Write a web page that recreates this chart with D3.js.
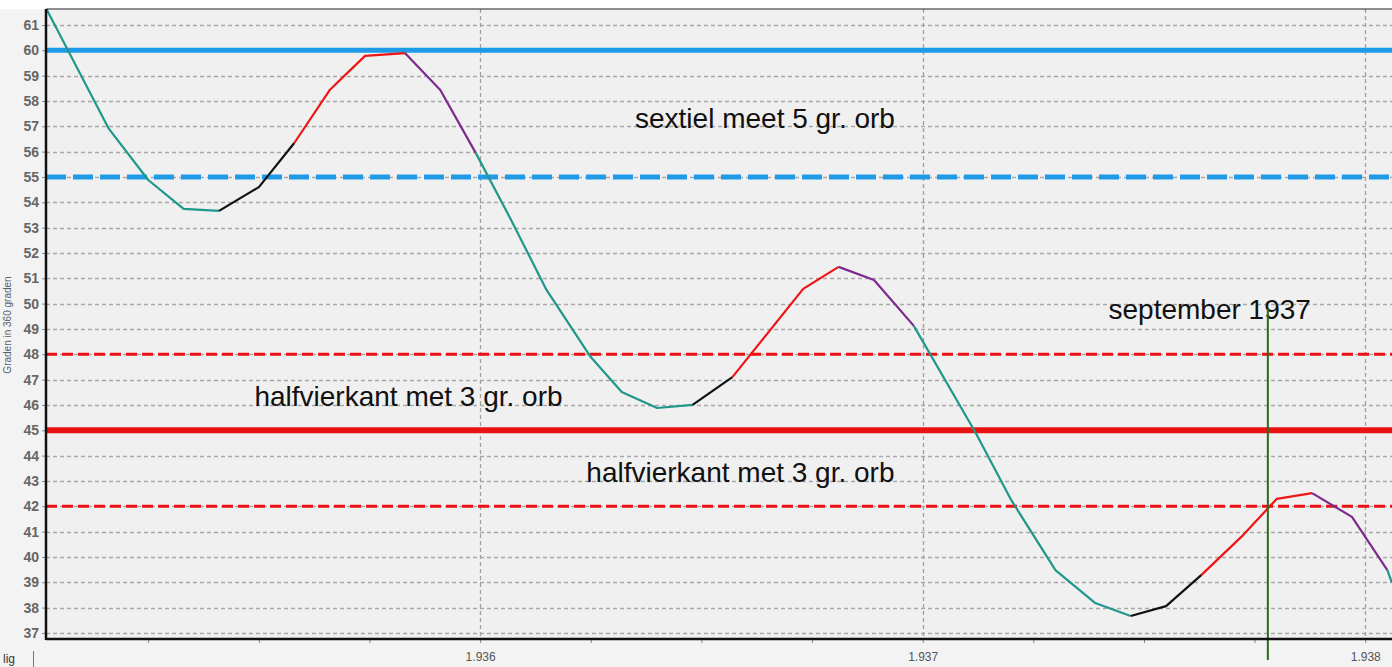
<!DOCTYPE html>
<html>
<head>
<meta charset="utf-8">
<script src="https://d3js.org/d3.v7.min.js"></script>
<style>
  body { margin: 0; background: #f3f3f3; overflow: hidden; }
  text { font-family: "Liberation Sans", Arial, sans-serif; }
</style>
</head>
<body>
<div id="graph"></div>
<script>
// Chart data - year (in thousands) against degrees
var years = [1.93502, 1.93516, 1.93525, 1.93533, 1.93541, 1.93550, 1.93558, 1.93566, 1.93574, 1.93583,
             1.93591, 1.93599, 1.93607, 1.93615, 1.93625, 1.93632, 1.93640, 1.93648, 1.93657, 1.93673,
             1.93681, 1.93689, 1.93698, 1.93712, 1.93720, 1.93730, 1.93739, 1.93747, 1.93755, 1.93763,
             1.93772, 1.93780, 1.93788, 1.93797, 1.93805, 1.93806];
var degrees = [61.63, 56.93, 54.88, 53.74, 53.66, 54.60, 56.34, 58.43, 59.78, 59.89,
               58.43, 55.95, 53.30, 50.54, 47.89, 46.51, 45.88, 46.00, 47.10, 50.58,
               51.45, 50.93, 49.12, 44.89, 42.25, 39.48, 38.18, 37.67, 38.06, 39.29,
               40.79, 42.29, 42.52, 41.58, 39.48, 39.00];
//phase of the segment that starts at each point
var phases = ["dalend", "dalend", "dalend", "dalend", "keer", "keer", "stijgend", "stijgend", "stijgend", "top",
              "top", "dalend", "dalend", "dalend", "dalend", "dalend", "dalend", "keer", "stijgend", "stijgend",
              "top", "top", "dalend", "dalend", "dalend", "dalend", "dalend", "keer", "keer", "stijgend",
              "stijgend", "stijgend", "top", "top", "dalend"];

//Aspect levels
var refLevels = [60, 55, 48, 45, 42];
var refKinds = ["sextiel", "sextielOrb", "halfvierkantOrb", "halfvierkant", "halfvierkantOrb"];

//Annotations
var noteTexts = ["sextiel meet 5 gr. orb", "halfvierkant met 3 gr. orb", "halfvierkant met 3 gr. orb", "september 1937"];
var noteYears = [1.93635, 1.93549, 1.93624, 1.93742];
var noteDegrees = [56.93, 45.96, 42.96, 49.39];

var markerYear = 1.93778;	//september 1937

var yTicks = d3.range(37, 62);
var xTicks = [1.936, 1.937, 1.938];

document.addEventListener('DOMContentLoaded', function() {
	const fullwidth = 1392;
	const fullheight = 667;
	const left = 46, right = 1390, top = 9, bottom = 639;

	var phaseColor = { dalend: "#1f978b", keer: "#111111", stijgend: "#f01414", top: "#7d2a8f" };
	var refStyle = {
		sextiel: { color: "#1f9ae6", width: 5, dash: null },
		sextielOrb: { color: "#1f9ae6", width: 5, dash: "20,7" },
		halfvierkant: { color: "#e81212", width: 6, dash: null },
		halfvierkantOrb: { color: "#e81212", width: 3, dash: "11,5" }
	};

	var xScale = d3.scaleLinear()
		.domain([1.935019, 1.938056])
		.range([left, right]);

	var yScale = d3.scaleLinear()
		.domain([36.76, 61.63])
		.range([bottom, top]);

	var svg = d3.select("#graph")
		.append("svg")
		.attr("width", fullwidth)
		.attr("height", fullheight);

	//white strip on top
	svg.append("rect")
		.attr("x", 0).attr("y", 0)
		.attr("width", fullwidth).attr("height", top)
		.attr("fill", "#ffffff");

	//plot background
	svg.append("rect")
		.attr("x", left).attr("y", top)
		.attr("width", fullwidth - left).attr("height", bottom - top)
		.attr("fill", "#f0f0f0");

	svg.append("clipPath").attr("id", "plotclip")
		.append("rect")
		.attr("x", left).attr("y", top)
		.attr("width", fullwidth - left).attr("height", bottom - top);

	//Horizontal grid
	svg.append("g")
		.selectAll("line")
		.data(yTicks)
		.enter().append("line")
			.attr("x1", left)
			.attr("x2", fullwidth)
			.attr("y1", (d) => Math.round(yScale(d)) + 0.5)
			.attr("y2", (d) => Math.round(yScale(d)) + 0.5)
			.attr("stroke", "#a8a8a8")
			.attr("stroke-width", 1.3)
			.attr("stroke-dasharray", "4,3");

	//Vertical grid
	svg.append("g")
		.selectAll("line")
		.data(xTicks)
		.enter().append("line")
			.attr("x1", (d) => Math.round(xScale(d)) + 0.5)
			.attr("x2", (d) => Math.round(xScale(d)) + 0.5)
			.attr("y1", top)
			.attr("y2", bottom)
			.attr("stroke", "#a0a0a0")
			.attr("stroke-width", 1.3)
			.attr("stroke-dasharray", "4,3");

	//Reference levels
	svg.append("g")
		.selectAll("line")
		.data(refLevels)
		.enter().append("line")
			.attr("x1", left)
			.attr("x2", fullwidth)
			.attr("y1", (d) => yScale(d))
			.attr("y2", (d) => yScale(d))
			.attr("stroke", (d, i) => refStyle[refKinds[i]].color)
			.attr("stroke-width", (d, i) => refStyle[refKinds[i]].width)
			.attr("stroke-dasharray", (d, i) => refStyle[refKinds[i]].dash);

	//Curve, one path per run of equal phase
	var points = years.map((d, i) => [d, degrees[i]]);
	var runs = [];
	for (var i = 0; i < phases.length; ++i)
	{
		if (runs.length == 0 || runs[runs.length - 1].phase != phases[i])
		{
			runs.push({ phase: phases[i], pts: [points[i]] });
		}
		runs[runs.length - 1].pts.push(points[i + 1]);
	}

	var line = d3.line()
		.x((d) => xScale(d[0]))
		.y((d) => yScale(d[1]));

	svg.append("g")
		.attr("clip-path", "url(#plotclip)")
		.selectAll("path")
		.data(runs)
		.enter().append("path")
			.attr("d", (d) => line(d.pts))
			.attr("fill", "none")
			.attr("stroke", (d) => phaseColor[d.phase])
			.attr("stroke-width", 2.2)
			.attr("stroke-linejoin", "round");

	//Annotations
	svg.append("g")
		.selectAll("text")
		.data(noteTexts)
		.enter().append("text")
			.attr("x", (d, i) => xScale(noteYears[i]))
			.attr("y", (d, i) => yScale(noteDegrees[i]))
			.attr("font-size", 28)
			.attr("fill", "#111111")
			.text((d) => d);

	//september 1937 marker
	svg.append("line")
		.attr("x1", xScale(markerYear))
		.attr("x2", xScale(markerYear))
		.attr("y1", yScale(49.8))
		.attr("y2", 660)
		.attr("stroke", "#2a6b1c")
		.attr("stroke-width", 2);

	//Axes
	var yAxis = d3.axisLeft(yScale)
		.tickValues(yTicks)
		.tickSize(4)
		.tickPadding(3)
		.tickFormat(d3.format("d"));

	var gy = svg.append("g")
		.attr("transform", "translate(" + left + ",0)")
		.call(yAxis);
	gy.select(".domain").remove();
	gy.selectAll(".tick line").attr("stroke", "#888888");
	gy.selectAll("text")
		.attr("font-size", 14)
		.attr("font-weight", "bold")
		.attr("fill", "#666666");

	var xAxis = d3.axisBottom(xScale)
		.tickValues(d3.range(1.93525, 1.9380, 0.00025))
		.tickSize(4)
		.tickPadding(9)
		.tickFormat((d) => xTicks.some((t) => Math.abs(t - d) < 1e-7) ? d3.format(".3f")(d) : "");

	var gx = svg.append("g")
		.attr("transform", "translate(0," + bottom + ")")
		.call(xAxis);
	gx.select(".domain").remove();
	gx.selectAll(".tick line").attr("stroke", "#888888");
	gx.selectAll("text")
		.attr("font-size", 12)
		.attr("fill", "#555555");

	//Frame lines
	svg.append("line")
		.attr("x1", left).attr("x2", left)
		.attr("y1", top).attr("y2", bottom + 1)
		.attr("stroke", "#111111").attr("stroke-width", 2.5);
	svg.append("line")
		.attr("x1", left).attr("x2", fullwidth)
		.attr("y1", bottom).attr("y2", bottom)
		.attr("stroke", "#111111").attr("stroke-width", 2.5);
	svg.append("line")
		.attr("x1", left).attr("x2", fullwidth)
		.attr("y1", top).attr("y2", top)
		.attr("stroke", "#222222").attr("stroke-width", 1.2);

	//Y axis title
	svg.append("text")
		.attr("transform", "translate(11," + 325 + ") rotate(-90)")
		.attr("text-anchor", "middle")
		.attr("font-size", 10)
		.attr("fill", "#556070")
		.text("Graden in 360 graden");

	//Tab at bottom left
	svg.append("text")
		.attr("x", 3).attr("y", 663)
		.attr("font-size", 12)
		.attr("fill", "#333333")
		.text("lig");
	svg.append("line")
		.attr("x1", 33.5).attr("x2", 33.5)
		.attr("y1", 651).attr("y2", 667)
		.attr("stroke", "#777777");
});
</script>
</body>
</html>
